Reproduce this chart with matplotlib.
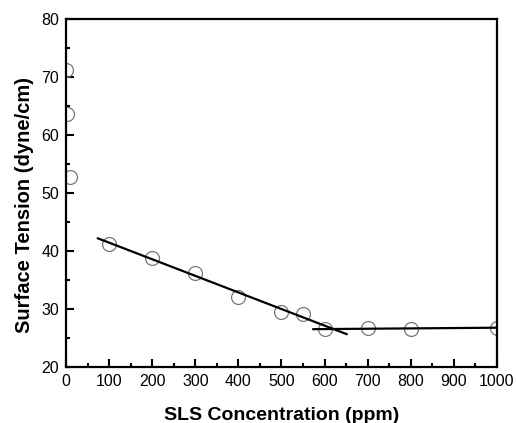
import matplotlib
matplotlib.use('Agg')
import matplotlib.pyplot as plt
from matplotlib.ticker import MultipleLocator

plt.rcParams['font.family'] = ['Liberation Sans', 'DejaVu Sans']

# dados
conc = [1, 2, 10, 100, 200, 300, 400, 500, 550, 600, 700, 800, 1000]
tensao = [71.2, 63.7, 52.8, 41.2, 38.9, 36.3, 32.1, 29.5, 29.1, 26.5, 26.8, 26.6, 26.8]

# retas de ajuste
reta1_x = [74, 651]
reta1_y = [42.2, 25.7]
reta2_x = [574, 1000]
reta2_y = [26.55, 26.8]

fig = plt.figure(figsize=(5.16, 4.23), dpi=100)
ax = fig.add_axes([0.128, 0.132, 0.835, 0.823])

ax.plot(conc, tensao, 'o', markersize=10, markerfacecolor='none',
        markeredgecolor='#777777', markeredgewidth=0.9, clip_on=True)
ax.plot(reta1_x, reta1_y, color='black', linewidth=1.6)
ax.plot(reta2_x, reta2_y, color='black', linewidth=1.6)

ax.set_xlim(0, 1000)
ax.set_ylim(20, 80)
ax.xaxis.set_major_locator(MultipleLocator(100))
ax.xaxis.set_minor_locator(MultipleLocator(50))
ax.yaxis.set_major_locator(MultipleLocator(10))
ax.yaxis.set_minor_locator(MultipleLocator(5))

ax.tick_params(which='both', direction='in', width=1.5, labelsize=11.5, top=False, right=False)
ax.tick_params(which='major', length=6, pad=5)
ax.tick_params(which='minor', length=3)
for s in ax.spines.values():
    s.set_linewidth(1.6)

ax.set_xlabel('SLS Concentration (ppm)', fontsize=14, fontweight='bold', labelpad=13)
ax.set_ylabel('Surface Tension (dyne/cm)', fontsize=14.5, fontweight='bold')
ax.yaxis.set_label_coords(-0.074, 0.466)

fig.savefig('out.png', dpi=100)
